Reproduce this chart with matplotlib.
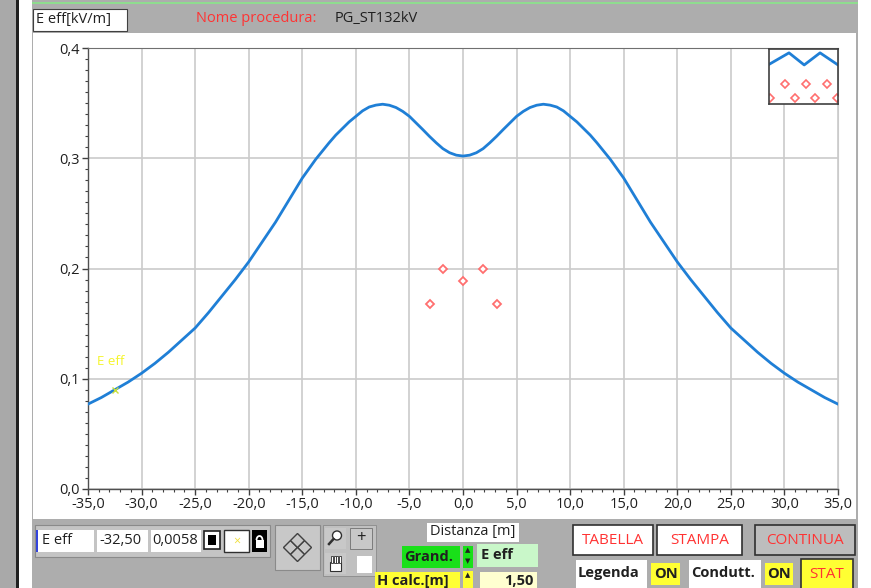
import numpy as np
import matplotlib.pyplot as plt
from matplotlib.patches import Rectangle, Polygon, Circle, Arc
from matplotlib.ticker import MultipleLocator, FuncFormatter

plt.rcParams['font.family'] = ['Open Sans', 'DejaVu Sans']
plt.rcParams['axes.unicode_minus'] = False

# ---------------------------------------------------------
# Data (E eff profile, kV/m)
# ---------------------------------------------------------
distance = [-35.0, -33.75, -32.5, -31.25, -30.0, -28.75, -27.5, -26.25, -25.0,
            -23.75, -22.5, -21.25, -20.0, -18.75, -17.5, -16.25, -15.0, -13.75,
            -12.5, -11.875, -11.25, -10.625, -10.0, -9.375, -8.75, -8.125,
            -7.5, -6.875, -6.25, -5.625, -5.0, -4.375, -3.75, -3.125, -2.5,
            -1.875, -1.25, -0.625, 0.0,
            0.625, 1.25, 1.875, 2.5, 3.125, 3.75, 4.375, 5.0, 5.625, 6.25,
            6.875, 7.5, 8.125, 8.75, 9.375, 10.0, 10.625, 11.25, 11.875, 12.5,
            13.75, 15.0, 16.25, 17.5, 18.75, 20.0, 21.25, 22.5, 23.75, 25.0,
            26.25, 27.5, 28.75, 30.0, 31.25, 32.5, 33.75, 35.0]
e_eff = [0.077, 0.083, 0.090, 0.097, 0.105, 0.114, 0.124, 0.135, 0.146,
         0.160, 0.175, 0.190, 0.206, 0.224, 0.242, 0.262, 0.282, 0.299,
         0.314, 0.321, 0.327, 0.333, 0.338, 0.343, 0.3465, 0.3482,
         0.349, 0.3481, 0.346, 0.3425, 0.338, 0.332, 0.326, 0.3198, 0.314,
         0.3087, 0.305, 0.3028, 0.302,
         0.3028, 0.305, 0.3087, 0.314, 0.3198, 0.326, 0.332, 0.338, 0.3425,
         0.346, 0.3481, 0.349, 0.3482, 0.3465, 0.343, 0.338, 0.333, 0.327,
         0.321, 0.314,
         0.299, 0.282, 0.262, 0.242, 0.224, 0.206, 0.190, 0.175, 0.160,
         0.146, 0.135, 0.124, 0.114, 0.105, 0.097, 0.090, 0.083, 0.077]

# "Linea 1" (conductor positions)
cond_x = [-3.1, -1.85, 0.0, 1.9, 3.15]
cond_y = [0.168, 0.200, 0.189, 0.200, 0.168]

cursor_x = -32.5
x_ticks = [-35, -30, -25, -20, -15, -10, -5, 0, 5, 10, 15, 20, 25, 30, 35]
y_ticks = [0.0, 0.1, 0.2, 0.3, 0.4]

BLUE = '#1f7fd6'
RED_MK = '#ff6f6f'
PANEL = '#adadad'

W, H = 871, 588
fig = plt.figure(figsize=(W / 100, H / 100), dpi=100)

# background axes in pixel coordinates for the panel chrome
bg = fig.add_axes([0, 0, 1, 1])
bg.set_xlim(0, W)
bg.set_ylim(H, 0)
bg.axis('off')


def box(x0, y0, x1, y1, fc, ec='none', lw=1.0):
    bg.add_patch(Rectangle((x0, y0), x1 - x0, y1 - y0, facecolor=fc,
                           edgecolor=ec, lw=lw))


def label(x, y, s, color='#202020', size=10.5, ha='left', weight='normal'):
    bg.text(x, y, s, ha=ha, va='center', color=color, fontsize=size,
            fontweight=weight)


# window pieces
box(0, 0, 16, H, '#a9a9a9')
box(16, 0, 19, H, '#202020')
box(19, 0, 32, H, 'white')
box(858, 0, W, H, 'white')
box(32, 0, 858, H, PANEL)
box(32, 2, 858, 4, '#8fdc8f')
box(33, 33, 856, 519, 'white')

# top bar
box(33, 9, 127, 31, 'white', '#404040', 0.8)
label(36, 20, 'E eff[kV/m]')
label(196, 19, 'Nome procedura:', color='#ff3333')
label(335, 19, 'PG_ST132kV')

# cursor panel
box(35, 525, 270, 557, '#c4c4c4', '#8a8a8a', 0.8)
box(37, 530, 94, 552, 'white')
box(36, 530, 38, 552, '#3344dd')
label(42, 541, 'E eff')
box(97, 530, 148, 552, 'white')
label(99, 541, '-32,50')
box(151, 530, 201, 552, 'white')
label(152, 541, '0,0058')
box(204, 531, 220, 549, 'white', '#202020', 1.2)
box(208, 535, 216, 545, 'black')
box(224, 530, 249, 552, 'white', '#303030', 1.0)
label(236.5, 541, '×', color='#f0e040', size=9, ha='center')
box(252, 530, 267, 552, 'black')
# padlock drawn as shapes
box(255.5, 540, 263.5, 548, 'white')
bg.add_patch(Arc((259.5, 540), 6, 8, theta1=180, theta2=360, color='white',
                 lw=1.3))

# navigation buttons
box(275, 525, 320, 570, '#c8c8c8', '#8a8a8a', 0.8)
cx, cy = 297.5, 547.5
for dx, dy in [(-7, 0), (7, 0), (0, -7), (0, 7)]:
    bg.add_patch(Polygon([(cx + dx - 7, cy + dy), (cx + dx, cy + dy - 7),
                          (cx + dx + 7, cy + dy), (cx + dx, cy + dy + 7)],
                         closed=True, facecolor='#c8c8c8', edgecolor='#404040',
                         lw=1.0))
box(323, 525, 376, 576, '#c0c0c0', '#8a8a8a', 0.6)
box(325, 528, 346, 549, '#c8c8c8')
# magnifier
bg.add_patch(Circle((337, 535.5), 4.5, facecolor='white', edgecolor='#303030',
                    lw=1.0))
bg.plot([333.5, 329], [539, 544], color='#303030', lw=1.8)
box(350, 528, 372, 549, '#c8c8c8', '#707070', 0.6)
label(361, 538, '+', size=12, ha='center')
box(325, 553, 346, 574, '#c8c8c8')
# hand
box(330, 562, 341, 571, 'white', '#303030', 0.8)
for fx in [331, 333.7, 336.4, 339.1]:
    box(fx, 556, fx + 2, 563, 'white', '#303030', 0.6)
box(357, 556, 372, 573, 'white')

# quantity selectors
box(427, 523, 519, 542, 'white')
label(430, 532, 'Distanza [m]')
box(402, 546, 460, 568, '#19e019')
label(404, 557, 'Grand.', weight='bold')
box(463, 546, 473, 568, '#19e019')
label(468, 551, '▲', size=5, ha='center')
label(468, 562, '▼', size=5, ha='center')
box(477, 544, 538, 567, '#c9f7c9')
label(481, 555, 'E eff', weight='bold')
box(375, 572, 460, 592, '#ffff33')
label(377, 581, 'H calc.[m]', weight='bold')
box(463, 571, 473, 592, '#ffff33')
label(468, 576, '▲', size=5, ha='center')
box(480, 572, 537, 592, '#ffffd0')
label(533, 581, '1,50', ha='right', weight='bold')

# action buttons
box(573, 525, 653, 555, 'white', '#303030', 1.2)
label(613, 540, 'TABELLA', color='#ff3333', size=11, ha='center')
box(657, 525, 742, 555, 'white', '#303030', 1.2)
label(699.5, 540, 'STAMPA', color='#ff3333', size=11, ha='center')
box(755, 525, 855, 555, '#bdbdbd', '#303030', 1.2)
label(805, 540, 'CONTINUA', color='#ff3333', size=11, ha='center')
box(576, 560, 647, 588, 'white')
label(578, 573, 'Legenda', weight='bold')
box(651, 563, 680, 585, '#ffff33')
label(665.5, 574, 'ON', ha='center', weight='bold')
box(689, 560, 761, 588, 'white')
label(691, 573, 'Condutt.', weight='bold')
box(765, 563, 793, 585, '#ffff33')
label(779, 574, 'ON', ha='center', weight='bold')
box(801, 559, 853, 590, '#ffff33', '#303030', 1.2)
label(827, 574, 'STAT', color='#ff3333', size=11, ha='center')

# ---------------------------------------------------------
# Main graph
# ---------------------------------------------------------
x0, x1, y0, y1 = 88, 838, 48, 489
ax = fig.add_axes([x0 / W, 1 - y1 / H, (x1 - x0) / W, (y1 - y0) / H])
ax.set_facecolor('white')
ax.plot(distance, e_eff, color=BLUE, lw=2.0, zorder=3)
ax.plot(cond_x, cond_y, ls='none', marker='D', ms=4.5, mfc='white',
        mec=RED_MK, mew=1.3, zorder=4)

cursor_y = np.interp(cursor_x, distance, e_eff)
ax.plot([cursor_x], [cursor_y], marker='x', ms=4, color='#c8e03c', mew=1,
        zorder=5)
ax.text(cursor_x - 1.7, cursor_y + 0.02, 'E eff', color='#f5f52a',
        fontsize=9.5, va='bottom')

ax.set_xlim(-35, 35)
ax.set_ylim(0, 0.4)
ax.set_xticks(x_ticks)
ax.set_yticks(y_ticks)
ax.xaxis.set_minor_locator(MultipleLocator(1))
ax.yaxis.set_minor_locator(MultipleLocator(0.01))
fmt = FuncFormatter(lambda v, p: f'{v:.1f}'.replace('.', ','))
ax.xaxis.set_major_formatter(fmt)
ax.yaxis.set_major_formatter(fmt)
ax.grid(True, which='major', color='#cbcbcb', lw=1.2)
ax.set_axisbelow(True)
ax.tick_params(which='major', length=4.5, width=1, color='#404040',
               labelsize=10.5, labelcolor='#202020', pad=1.5)
ax.tick_params(which='minor', length=2.5, width=0.8, color='#404040')
for side in ['left', 'bottom']:
    ax.spines[side].set_color('#505050')
    ax.spines[side].set_linewidth(1.0)
ax.spines['top'].set_color('#707070')
ax.spines['right'].set_color('#cbcbcb')

# plot legend box (top right)
leg = fig.add_axes([769 / W, 1 - 104 / H, 69 / W, 55 / H])
leg.set_xlim(0, 1)
leg.set_ylim(0, 1)
leg.set_xticks([])
leg.set_yticks([])
for s in leg.spines.values():
    s.set_color('#404040')
    s.set_linewidth(1.2)
leg.plot([0, 0.29, 0.51, 0.74, 1.0], [0.72, 0.93, 0.71, 0.93, 0.71],
         color=BLUE, lw=2.0, clip_on=True)
leg.plot([0.23, 0.54, 0.84], [0.36, 0.36, 0.36], ls='none', marker='D',
         ms=4, mfc='white', mec=RED_MK, mew=1.2, clip_on=True)
leg.plot([0.02, 0.38, 0.67, 0.98], [0.11, 0.11, 0.11, 0.11], ls='none',
         marker='D', ms=4, mfc='white', mec=RED_MK, mew=1.2, clip_on=True)
label(766, 61, 'E eff', color='#66f5f5', ha='right')
label(766, 92, 'Linea 1', color='#66f5f5', ha='right')

fig.savefig('out.png', dpi=100)
